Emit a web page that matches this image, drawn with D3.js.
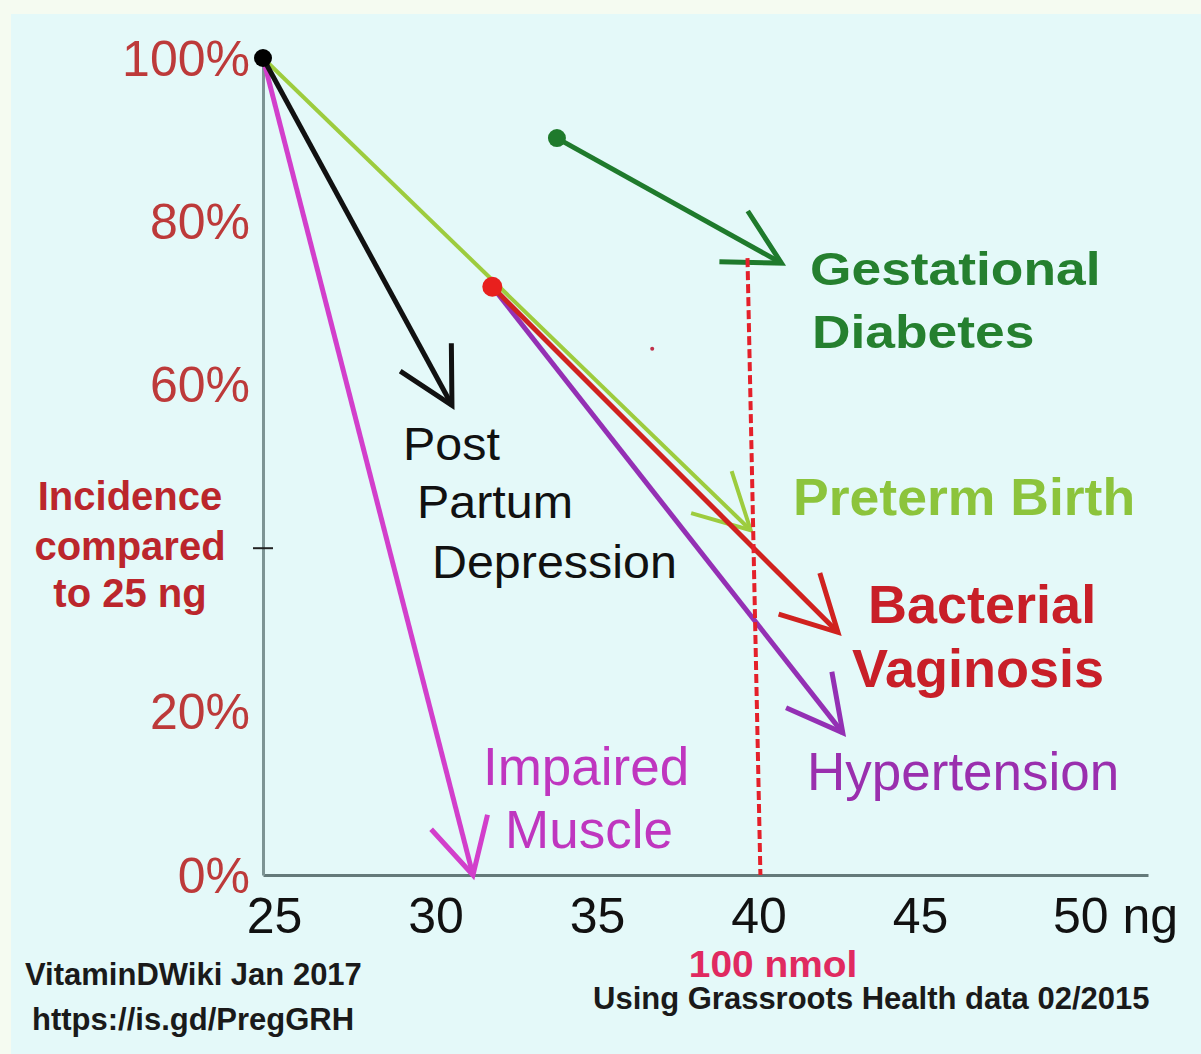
<!DOCTYPE html>
<html>
<head>
<meta charset="utf-8">
<script src="https://cdnjs.cloudflare.com/ajax/libs/d3/7.8.5/d3.min.js"></script>
<style>
  body { margin: 0; background: #f5fbf1; }
  svg { display: block; font-family: 'Liberation Sans', Arial, sans-serif; }
</style>
</head>
<body>
<div class="vis"></div>
<script>
// values
// x = vitamin D level (ng/ml), y = incidence compared to 25 ng (%)
const conditions = ['Post Partum Depression', 'Preterm Birth', 'Impaired Muscle', 'Bacterial Vaginosis', 'Hypertension', 'Gestational Diabetes']
const startX = [25, 25, 25, 32.1, 32.1, 34.1]
const startY = [100, 100, 100, 72, 72, 90.2]
const endX = [30.85, 40.1, 31.5, 42.8, 42.95, 41.05]
const endY = [57.5, 42.2, 0, 29.7, 17.4, 74.9]

const dotX = [25, 32.1, 34.1]
const dotY = [100, 72, 90.2]

const xTicks = [25, 30, 35, 40, 45, 50]
const yTicks = [0, 20, 40, 60, 80, 100]

// dashed 100 nmol line (40 ng), top and bottom
const nmolX = [40, 40.4]
const nmolY = [75.5, 0]

// stray speck in the original
const speckX = [37.05]
const speckY = [64.4]

const W = 1201
const H = 1054

const colors = {
  'Post Partum Depression': '#111111',
  'Preterm Birth': '#9dcc3e',
  'Impaired Muscle': '#d23fcb',
  'Bacterial Vaginosis': '#d0221f',
  'Hypertension': '#9430b4',
  'Gestational Diabetes': '#1f7a2c'
}
const dotColors = ['#000000', '#e8201e', '#1f7a2c']

const svg = d3
  .select('.vis')
  .append('svg')
  .attr('width', W)
  .attr('height', H)

svg
  .append('rect')
  .attr('x', 11)
  .attr('y', 14)
  .attr('width', W - 11)
  .attr('height', H - 14)
  .attr('fill', '#e4f9f9')

// scales
const x = d3.scaleLinear().domain([25, 52.4]).range([263, 1148])
const y = d3.scaleLinear().domain([0, 100]).range([875, 58])

// axes
const xAxis = d3
  .axisBottom(x)
  .tickValues(xTicks)
  .tickSize(0)
  .tickSizeOuter(0)
  .tickPadding(22)
  .tickFormat(d => (d === 50 ? '50 ng' : d))

const yAxis = d3
  .axisLeft(y)
  .tickValues(yTicks)
  .tickSize(0)
  .tickSizeOuter(0)
  .tickPadding(13)
  .tickFormat(d => (d === 40 ? '' : d + '%'))

const gx = svg
  .append('g')
  .attr('class', 'x axis')
  .attr('transform', `translate(0,${y(0)})`)
  .call(xAxis)
gx.select('.domain').attr('stroke', '#647a7a').attr('stroke-width', 3)
gx
  .selectAll('.tick text')
  .attr('fill', '#111')
  .attr('font-size', 50)
  .attr('font-family', "'Liberation Sans', Arial, sans-serif")
  .attr('dx', 11)
gx
  .selectAll('.tick text')
  .filter(d => d === 50)
  .attr('text-anchor', 'start')
  .attr('dx', -18)

const gy = svg
  .append('g')
  .attr('class', 'y axis')
  .attr('transform', `translate(${x(25)},0)`)
  .call(yAxis)
gy.select('.domain').attr('stroke', '#7d9494').attr('stroke-width', 3)
gy
  .selectAll('.tick text')
  .attr('fill', '#bd3a3a')
  .attr('font-size', 50)
  .attr('font-family', "'Liberation Sans', Arial, sans-serif")
  .attr('dy', '0.34em')

// the lone 40% tick crossing the axis
svg
  .append('line')
  .attr('x1', x(25) - 10)
  .attr('x2', x(25) + 10)
  .attr('y1', y(40))
  .attr('y2', y(40))
  .attr('stroke', '#222')
  .attr('stroke-width', 2)

// arrows, drawn back to front
const drawOrder = [1, 4, 3, 2, 0, 5]
drawOrder.forEach(i => {
  const name = conditions[i]
  const x0 = x(startX[i])
  const y0 = y(startY[i])
  const x1 = x(endX[i])
  const y1 = y(endY[i])
  const ang = Math.atan2(y0 - y1, x0 - x1)
  const len = 62
  const spread = (28 * Math.PI) / 180
  const arms = [ang - spread, ang + spread].map(a => [x1 + len * Math.cos(a), y1 + len * Math.sin(a)])
  const g = svg.append('g').attr('class', 'arrow').attr('stroke', colors[name]).attr('fill', 'none')
  const w = name === 'Preterm Birth' ? 4 : 5
  g.append('line')
    .attr('x1', x0).attr('y1', y0)
    .attr('x2', x1).attr('y2', y1)
    .attr('stroke-width', w)
  g.append('path')
    .attr('d', `M${arms[0][0]},${arms[0][1]}L${x1},${y1}L${arms[1][0]},${arms[1][1]}`)
    .attr('stroke-width', w)
    .attr('stroke-linejoin', 'miter')
})

// 100 nmol dashed marker
svg
  .append('line')
  .attr('x1', x(nmolX[0]))
  .attr('y1', y(nmolY[0]))
  .attr('x2', x(nmolX[1]))
  .attr('y2', y(nmolY[1]))
  .attr('stroke', '#e4202a')
  .attr('stroke-width', 4)
  .attr('stroke-dasharray', '9,4')

// start dots
svg
  .selectAll('.dot')
  .data(dotX)
  .enter()
  .append('circle')
  .attr('class', 'dot')
  .attr('cx', d => x(d))
  .attr('cy', (d, i) => y(dotY[i]))
  .attr('r', (d, i) => (i === 1 ? 10 : 9))
  .attr('fill', (d, i) => dotColors[i])

svg
  .selectAll('.speck')
  .data(speckX)
  .enter()
  .append('circle')
  .attr('class', 'speck')
  .attr('cx', d => x(d))
  .attr('cy', (d, i) => y(speckY[i]))
  .attr('r', 2)
  .attr('fill', '#c0304a')

// text labels
function label(lines, xs, ys, size, weight, color, sx, anchor = 'start') {
  lines.forEach((t, i) => {
    svg
      .append('text')
      .attr('transform', `translate(${xs[i]},${ys[i]}) scale(${sx},1)`)
      .attr('font-size', size)
      .attr('font-weight', weight)
      .attr('fill', color)
      .attr('text-anchor', anchor)
      .text(t)
  })
}

label(['Post', 'Partum', 'Depression'], [403, 417, 432], [460, 518, 578], 47, 'normal', '#111', 1.03)
label(['Gestational', 'Diabetes'], [810, 812], [285, 348], 46, 'bold', '#25802f', 1.16)
label(['Preterm Birth'], [793], [515], 52, 'bold', '#8cc43c', 1.03)
label(['Bacterial', 'Vaginosis'], [868, 852], [623, 687], 54, 'bold', '#c81f28', 1.0)
label(['Hypertension'], [807], [790], 53, 'normal', '#9a2fae', 1.0)
label(['Impaired', 'Muscle'], [483, 505], [785, 848], 53, 'normal', '#bf36bf', 1.0)

label(['Incidence', 'compared', 'to 25 ng'], [130, 130, 130], [510, 560, 607], 40, 'bold', '#bb262c', 1.0, 'middle')

label(['VitaminDWiki Jan 2017'], [25], [985], 31, 'bold', '#1a1a1a', 1.0)
label(['https://is.gd/PregGRH'], [32], [1030], 31, 'bold', '#1a1a1a', 1.0)
label(['100 nmol'], [773], [977], 37, 'bold', '#e02a60', 1.05, 'middle')
label(['Using Grassroots Health data 02/2015'], [593], [1009], 31, 'bold', '#1a1a1a', 1.0)
</script>
</body>
</html>
